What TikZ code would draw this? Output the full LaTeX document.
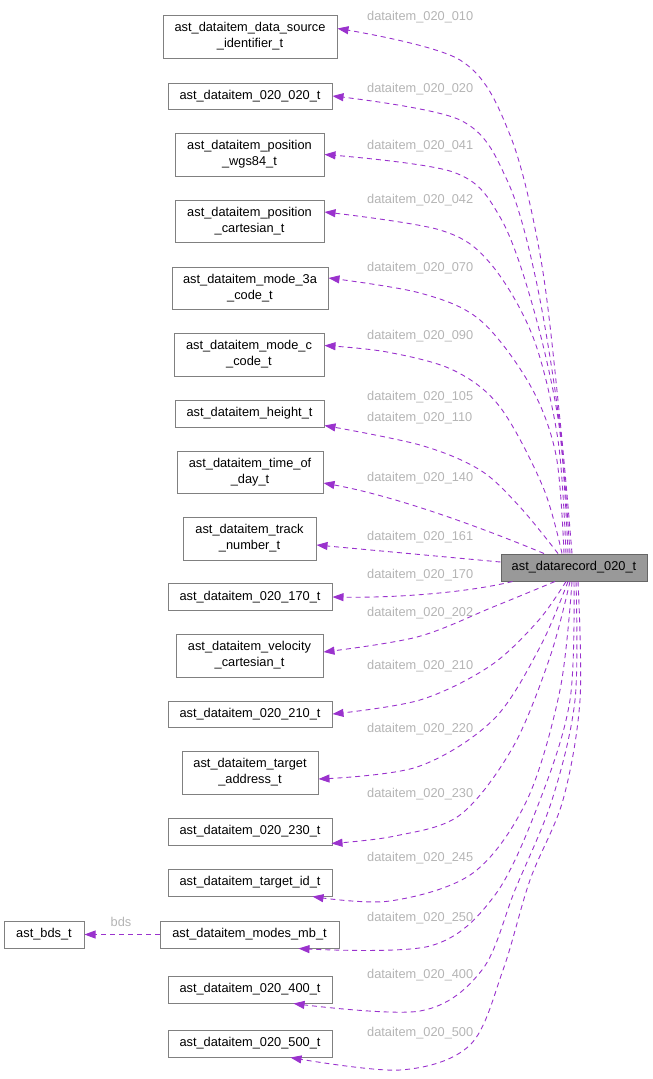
\documentclass[tikz,border=0pt]{standalone}
\usepackage{fontspec}
\setmainfont{Liberation Sans}
\usetikzlibrary{arrows.meta}
\definecolor{edgec}{HTML}{9A32CD}
\definecolor{labc}{HTML}{B4B4B4}
\definecolor{boxc}{HTML}{808080}
\definecolor{rootfill}{HTML}{999999}
\definecolor{rootdraw}{HTML}{666666}
\tikzset{
  box/.style={draw=boxc, line width=1pt, fill=white, inner sep=0pt, align=center,
    font=\fontsize{12.8}{16}\selectfont},
  one/.style={box, minimum height=27pt},
  two/.style={box, minimum height=43pt},
  rootbox/.style={one, draw=rootdraw, fill=rootfill},
  edge/.style={draw=edgec, line width=0.9pt, dash pattern=on 5pt off 4pt,
    -{Triangle[length=11pt,width=8pt]}},
  sm/.style={smooth, tension=0.55},
  lab/.style={text=labc, anchor=west, inner sep=0pt, font=\fontsize{12.8}{15}\selectfont}
}
\begin{document}
\begin{tikzpicture}[x=1pt,y=-1pt]
\useasboundingbox (0,0) rectangle (653,1079);

% nodes
\node[two, minimum width=174pt] (n1) at (250,36.5) {ast\_dataitem\_data\_source\\\_identifier\_t};
\node[one, minimum width=164pt, minimum height=26pt] (n2) at (250,96) {ast\_dataitem\_020\_020\_t};
\node[two, minimum width=149pt] (n3) at (249.5,154.5) {ast\_dataitem\_position\\\_wgs84\_t};
\node[two, minimum width=149pt, minimum height=42pt] (n4) at (249.5,221) {ast\_dataitem\_position\\\_cartesian\_t};
\node[two, minimum width=156pt, minimum height=42pt] (n5) at (250,288) {ast\_dataitem\_mode\_3a\\\_code\_t};
\node[two, minimum width=150pt] (n6) at (249,354.5) {ast\_dataitem\_mode\_c\\\_code\_t};
\node[one, minimum width=149pt] (n7) at (249.5,413.5) {ast\_dataitem\_height\_t};
\node[two, minimum width=146pt, minimum height=42pt] (n8) at (250,472) {ast\_dataitem\_time\_of\\\_day\_t};
\node[two, minimum width=133pt] (n9) at (249.5,538.5) {ast\_dataitem\_track\\\_number\_t};
\node[one, minimum width=164pt] (n10) at (250,597) {ast\_dataitem\_020\_170\_t};
\node[two, minimum width=147pt] (n11) at (249.5,655.5) {ast\_dataitem\_velocity\\\_cartesian\_t};
\node[one, minimum width=164pt, minimum height=26pt] (n12) at (250,714) {ast\_dataitem\_020\_210\_t};
\node[two, minimum width=136pt] (n13) at (250,772.5) {ast\_dataitem\_target\\\_address\_t};
\node[one, minimum width=164pt] (n14) at (250,831.5) {ast\_dataitem\_020\_230\_t};
\node[one, minimum width=164pt] (n15) at (250,882.5) {ast\_dataitem\_target\_id\_t};
\node[one, minimum width=179pt] (n16) at (249.5,934.5) {ast\_dataitem\_modes\_mb\_t};
\node[one, minimum width=164pt] (n17) at (250,989.5) {ast\_dataitem\_020\_400\_t};
\node[one, minimum width=164pt] (n18) at (250,1043.5) {ast\_dataitem\_020\_500\_t};
\node[one, minimum width=80pt] (bds) at (44,934.5) {ast\_bds\_t};
\node[rootbox, minimum width=146pt] (dr) at (574,567.5) {ast\_datarecord\_020\_t};

% edges (from ast_datarecord_020_t to its members)
\draw[edge] plot[sm] coordinates {([xshift=-2pt]dr.north) (560,420) (541,260) (510,135) (460,60) ([yshift=8pt]n1.east)};
\draw[edge] plot[sm] coordinates {([xshift=-4pt]dr.north) (559,420) (536,280) (507,180) (460,120) (n2.east)};
\draw[edge] plot[sm] coordinates {([xshift=-6pt]dr.north) (559,425) (533,307) (500,217) (453,172) (n3.east)};
\draw[edge] plot[sm] coordinates {([xshift=-8pt]dr.north) (558,440) (533,337) (490,263) (440,230) ([yshift=9pt]n4.east)};
\draw[edge] plot[sm] coordinates {([xshift=-10pt]dr.north) (556,455) (530,385) (480,320) (420,293) ([yshift=10pt]n5.east)};
\draw[edge] plot[sm] coordinates {([xshift=-12pt]dr.north) (543,487) (500,407) (453,370) (387,352) ([yshift=9pt]n6.east)};
\draw[edge] plot[sm] coordinates {([xshift=-16pt]dr.north) (520,507) (480,470) (420,445) ([yshift=2pt]n7.south east)};
\draw[edge] ([xshift=-30pt]dr.north) .. controls (490,531) and (400,497) .. ([yshift=-11pt]n8.east);
\draw[edge] ([yshift=5.5pt]dr.west) -- ([yshift=-6.5pt]n9.east);
\draw[edge] ([xshift=12pt]dr.south west) .. controls (470,592) and (400,598) .. (n10.east);
\draw[edge] plot[sm] coordinates {([xshift=-19pt]dr.south) (493,607) (417,637) ([yshift=3.5pt]n11.east)};
\draw[edge] plot[sm] coordinates {([xshift=-8pt]dr.south) (538,621) (490,666) (420,700) (n12.east)};
\draw[edge] plot[sm] coordinates {([xshift=-6pt]dr.south) (540,647) (493,720) (417,767) ([yshift=-6.5pt]n13.east)};
\draw[edge] plot[sm] coordinates {([xshift=-4pt]dr.south) (550,657) (513,747) (460,815) (395,836) ([xshift=-1pt,yshift=2pt]n14.south east)};
\draw[edge] plot[sm] coordinates {([xshift=-2pt]dr.south) (560,690) (527,800) (473,873) (390,901) ([xshift=-20pt]n15.south east)};
\draw[edge] plot[sm] coordinates {(dr.south) (570,700) (540,800) (495,895) (430,946) ([xshift=-41pt]n16.south east)};
\draw[edge] plot[sm] coordinates {([xshift=2pt]dr.south) (575,700) (552,800) (515,890) (482,970) (420,1011) ([xshift=-39pt]n17.south east)};
\draw[edge] plot[sm] coordinates {([xshift=4pt]dr.south) (580,700) (563,800) (530,880) (503,970) (470,1045) (400,1070) ([xshift=-42pt]n18.south east)};
\draw[edge] (n16.west) -- (bds.east);

% labels
\node[lab] (l1) at (367,17) {dataitem\_020\_010};
\node[lab] (l2) at (367,89) {dataitem\_020\_020};
\node[lab] (l3) at (367,146) {dataitem\_020\_041};
\node[lab] (l4) at (367,200) {dataitem\_020\_042};
\node[lab] (l5) at (367,268) {dataitem\_020\_070};
\node[lab] (l6) at (367,336) {dataitem\_020\_090};
\node[lab] (l7a) at (367,397) {dataitem\_020\_105};
\node[lab] (l7b) at (367,418) {dataitem\_020\_110};
\node[lab] (l8) at (367,478) {dataitem\_020\_140};
\node[lab] (l9) at (367,537) {dataitem\_020\_161};
\node[lab] (l10) at (367,575) {dataitem\_020\_170};
\node[lab] (l11) at (367,613) {dataitem\_020\_202};
\node[lab] (l12) at (367,666) {dataitem\_020\_210};
\node[lab] (l13) at (367,729) {dataitem\_020\_220};
\node[lab] (l14) at (367,794) {dataitem\_020\_230};
\node[lab] (l15) at (367,858) {dataitem\_020\_245};
\node[lab] (l16) at (367,918) {dataitem\_020\_250};
\node[lab] (l17) at (367,975) {dataitem\_020\_400};
\node[lab] (l18) at (367,1033) {dataitem\_020\_500};
\node[lab, anchor=center] (lb) at (121,922) {bds};
\end{tikzpicture}
\end{document}
